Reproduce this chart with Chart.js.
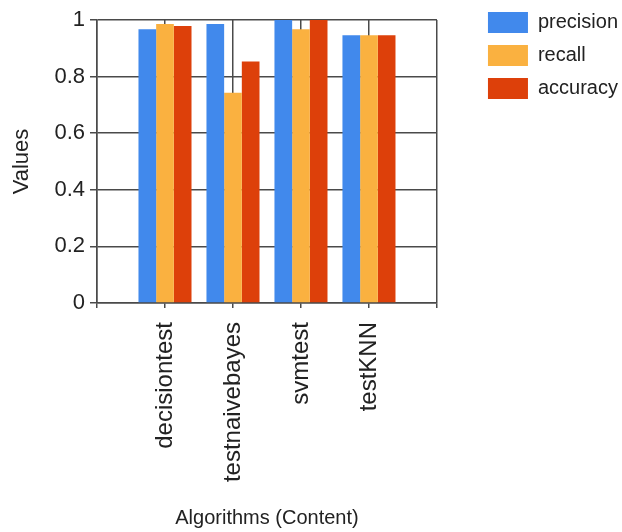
<!DOCTYPE html>
<html>
<head>
<meta charset="utf-8">
<script src="https://cdn.jsdelivr.net/npm/chart.js@4/dist/chart.umd.min.js"></script>
<style>
  html, body { margin: 0; padding: 0; background: #fff; }
  #wrap { width: 622px; height: 532px; }
</style>
</head>
<body>
<div id="wrap"><canvas id="algoChart"></canvas></div>
<script>
const ctx = document.getElementById('algoChart');

// algorithms on the x axis (blank slots at both ends, like the original plot)
const algorithms = ['decisiontest', 'testnaivebayes', 'svmtest', 'testKNN'];

// scores
const precision = [0.967, 0.986, 1.0, 0.946];
const recall = [0.986, 0.743, 0.967, 0.946];
const accuracy = [0.979, 0.853, 1.0, 0.946];

const yTicks = [0, 0.2, 0.4, 0.6, 0.8, 1];

const pad = arr => [null, ...arr, null];
const labels = ['', ...algorithms, ''];

const textColor = '#222';
const lineColor = '#4a4a4a';
const fontFamily = '"Liberation Sans", Arial, sans-serif';

new Chart(ctx, {
  type: 'bar',
  data: {
    labels: labels,
    datasets: [
      { label: 'precision', data: pad(precision), backgroundColor: 'rgb(65, 137, 236)', borderWidth: 0 },
      { label: 'recall', data: pad(recall), backgroundColor: 'rgb(250, 177, 64)', borderWidth: 0 },
      { label: 'accuracy', data: pad(accuracy), backgroundColor: 'rgb(221, 64, 10)', borderWidth: 0 }
    ]
  },
  options: {
    responsive: true,
    maintainAspectRatio: false,
    animation: false,
    layout: { padding: { top: 0, left: 2, right: -6, bottom: 0 } },
    datasets: {
      bar: { barPercentage: 1.0, categoryPercentage: 0.78 }
    },
    plugins: {
      tooltip: { enabled: false },
      legend: {
        position: 'right',
        align: 'start',
        maxWidth: 200,
        labels: {
          boxWidth: 40,
          boxHeight: 21,
          padding: 12,
          color: textColor,
          font: { family: fontFamily, size: 20 }
        }
      }
    },
    scales: {
      x: {
        type: 'category',
        offset: false,
        grid: { offset: false, color: lineColor, lineWidth: 1.5, tickLength: 5, tickColor: lineColor },
        border: { color: lineColor, width: 1.5 },
        ticks: {
          autoSkip: false,
          minRotation: 90,
          maxRotation: 90,
          padding: 14,
          color: textColor,
          font: { family: fontFamily, size: 24 }
        },
        title: {
          display: true,
          text: 'Algorithms (Content)',
          color: textColor,
          font: { family: fontFamily, size: 20 },
          padding: { top: 4, bottom: 2 }
        },
        afterFit: s => { s.height = 229; }
      },
      y: {
        min: 0,
        max: 1,
        afterBuildTicks: s => { s.ticks = yTicks.map(v => ({ value: v })); },
        grid: { color: lineColor, lineWidth: 1.5, tickLength: 7, tickColor: lineColor },
        border: { color: lineColor, width: 1.5 },
        ticks: {
          padding: 5,
          color: textColor,
          font: { family: fontFamily, size: 22 },
          callback: v => String(v)
        },
        title: {
          display: true,
          text: 'Values',
          color: textColor,
          font: { family: fontFamily, size: 22 },
          padding: { top: 7, bottom: 0 }
        },
        afterFit: s => { s.width = 95; }
      },
      // spacer axes: keep the plot box where it sits in the original
      topGap: {
        type: 'linear',
        position: 'top',
        grid: { display: false },
        border: { display: false },
        ticks: { display: false },
        afterFit: s => { s.height = 20; }
      },
      rightGap: {
        type: 'linear',
        position: 'right',
        grid: { display: false },
        border: { display: false },
        ticks: { display: false },
        afterFit: s => { s.width = 39; }
      }
    }
  }
});
</script>
</body>
</html>
